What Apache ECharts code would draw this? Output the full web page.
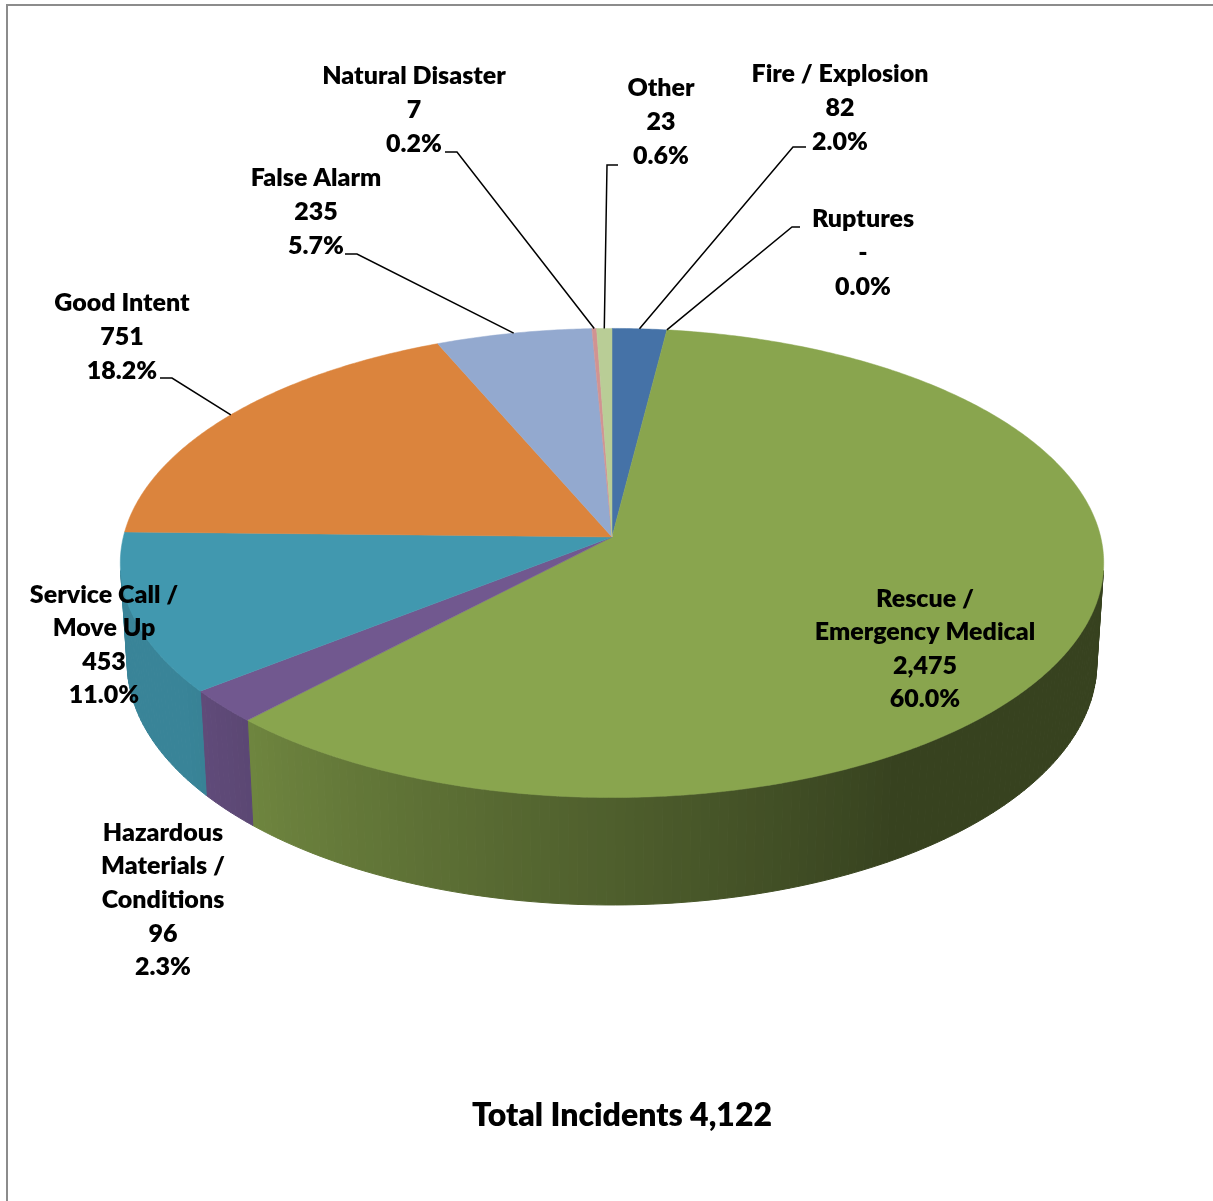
<!DOCTYPE html>
<html>
<head>
<meta charset="utf-8">
<title>Incidents by Type</title>
<script src="https://cdn.jsdelivr.net/npm/echarts@6/dist/echarts.min.js"></script>
<style>
  html, body { margin: 0; padding: 0; background: #ffffff; }
  #chart { width: 1213px; height: 1201px; }
</style>
</head>
<body>
<div id="chart"></div>
<script>
// Incident categories, in slice order (clockwise from 12 o'clock)
const categories = [
  'Fire / Explosion',
  'Ruptures',
  'Rescue /\nEmergency Medical',
  'Hazardous\nMaterials /\nConditions',
  'Service Call /\nMove Up',
  'Good Intent',
  'False Alarm',
  'Natural Disaster',
  'Other'
];
// Number of incidents per category
const incidents = [82, 0, 2475, 96, 453, 751, 235, 7, 23];

// Slice palette
const sliceColors = ['#4572A7', '#AA4643', '#89A54E', '#71588F', '#4198AF', '#DB843D', '#93A9CF', '#D19392', '#B9CD96'];

// Label placement: block centre, and leader line start + elbow
const labelLayout = [
  { x: 840, y: 108, lead: [[806, 147], [793, 147]] },
  { x: 863, y: 253, lead: [[800, 227], [792, 227]] },
  { x: 925, y: 649, lead: null },
  { x: 163, y: 900, lead: null },
  { x: 104, y: 645, lead: null },
  { x: 122, y: 337, lead: [[160, 378], [172, 378]] },
  { x: 316, y: 212, lead: [[345, 254], [357, 254]] },
  { x: 414, y: 110, lead: [[445, 152], [457, 152]] },
  { x: 661, y: 122, lead: [[618, 165], [607, 165]] }
];

const total = incidents.reduce((a, b) => a + b, 0);
const FONT = '800 25px Lato, "Open Sans", sans-serif';

// Perspective view of a tilted disc (3D pie)
const view = { cx: 612, cy: 537, F: 3885, D: 7.95, tilt: 28.3 * Math.PI / 180, thick: 0.234 };
const sT = Math.sin(view.tilt), cT = Math.cos(view.tilt);

// theta: radians clockwise from 12 o'clock; depth 0 = top face, 1 = bottom face
function project(theta, depth) {
  const u = Math.sin(theta), v = Math.cos(theta);
  const wy = v * sT - depth * view.thick * cT;
  const wz = v * cT + depth * view.thick * sT;
  const k = view.F / (view.D + wz);
  return [view.cx + u * k, view.cy - wy * k];
}

// Outer wall faces the viewer where cos(theta) < -1/(D cos tilt)
const silhouette = Math.acos(-1 / (view.D * cT));
const wallLo = silhouette, wallHi = 2 * Math.PI - silhouette;

function hexToRgb(h) {
  const n = parseInt(h.slice(1), 16);
  return [(n >> 16) & 255, (n >> 8) & 255, n & 255];
}
function shade(hex, f) {
  const c = hexToRgb(hex).map(x => Math.round(x * f));
  return 'rgb(' + c.join(',') + ')';
}
function wallShade(thetaDeg) {
  return Math.max(0.4, Math.min(0.87, 0.4 + (thetaDeg - 148) * 0.0054));
}

// Cumulative angles from the data
const startAngles = [];
const endAngles = [];
(function () {
  let acc = 0;
  incidents.forEach(v => {
    startAngles.push(acc / total * 2 * Math.PI);
    acc += v;
    endAngles.push(acc / total * 2 * Math.PI);
  });
})();

function renderSlice(params, api) {
  const i = params.dataIndex;
  const value = api.value(0);
  const a1 = startAngles[i], a2 = endAngles[i];
  const color = sliceColors[i];
  const children = [];
  const step = Math.PI / 360;

  if (value > 0) {
    // Top face
    const pts = [[view.cx, view.cy]];
    const n = Math.max(2, Math.ceil((a2 - a1) / step));
    for (let k = 0; k <= n; k++) pts.push(project(a1 + (a2 - a1) * k / n, 0));
    children.push({
      type: 'polygon', z2: 20,
      shape: { points: pts },
      style: { fill: color, stroke: color, lineWidth: 0.5, lineJoin: 'round' }
    });

    // Front wall, in thin strips shaded by facing angle
    const lo = Math.max(a1, wallLo), hi = Math.min(a2, wallHi);
    if (hi > lo) {
      const wstep = Math.PI / 180;
      const m = Math.max(1, Math.ceil((hi - lo) / wstep));
      for (let k = 0; k < m; k++) {
        const t1 = lo + (hi - lo) * k / m;
        const t2 = lo + (hi - lo) * (k + 1) / m;
        const c = shade(color, wallShade((t1 + t2) / 2 * 180 / Math.PI));
        children.push({
          type: 'polygon', z2: 10,
          shape: { points: [project(t1, 0), project(t2, 0), project(t2, 1), project(t1, 1)] },
          style: { fill: c, stroke: c, lineWidth: 1 }
        });
      }
    }
  }

  // Data label
  const lay = labelLayout[i];
  const valueText = value === 0 ? '-' : value.toLocaleString('en-US');
  const pctText = (value / total * 100).toFixed(1) + '%';
  children.push({
    type: 'text', z2: 40,
    style: {
      text: categories[i] + '\n' + valueText + '\n' + pctText,
      x: lay.x, y: lay.y,
      align: 'center', verticalAlign: 'middle',
      font: FONT, lineHeight: 33.6, fill: '#000000'
    }
  });

  // Leader line to the slice rim
  if (lay.lead) {
    const mid = (a1 + a2) / 2;
    children.push({
      type: 'polyline', z2: 30,
      shape: { points: [lay.lead[0], lay.lead[1], project(mid, 0)] },
      style: { stroke: '#000000', lineWidth: 1.5, fill: null }
    });
  }

  return { type: 'group', children: children };
}

const chart = echarts.init(document.getElementById('chart'), null, { renderer: 'canvas' });
chart.setOption({
  backgroundColor: '#ffffff',
  animation: false,
  graphic: [
    {
      type: 'rect', z: 0,
      shape: { x: 7, y: 5, width: 1240, height: 1240 },
      style: { fill: 'none', stroke: '#8c8c8c', lineWidth: 2 }
    },
    {
      type: 'text', z: 10,
      style: {
        text: 'Total Incidents ' + total.toLocaleString('en-US'),
        x: 622, y: 1116, align: 'center', verticalAlign: 'middle',
        font: '800 32px Lato, "Open Sans", sans-serif', fill: '#000000'
      }
    }
  ],
  series: [{
    type: 'custom',
    coordinateSystem: 'none',
    renderItem: renderSlice,
    data: incidents.map(v => [v])
  }]
});
</script>
</body>
</html>
